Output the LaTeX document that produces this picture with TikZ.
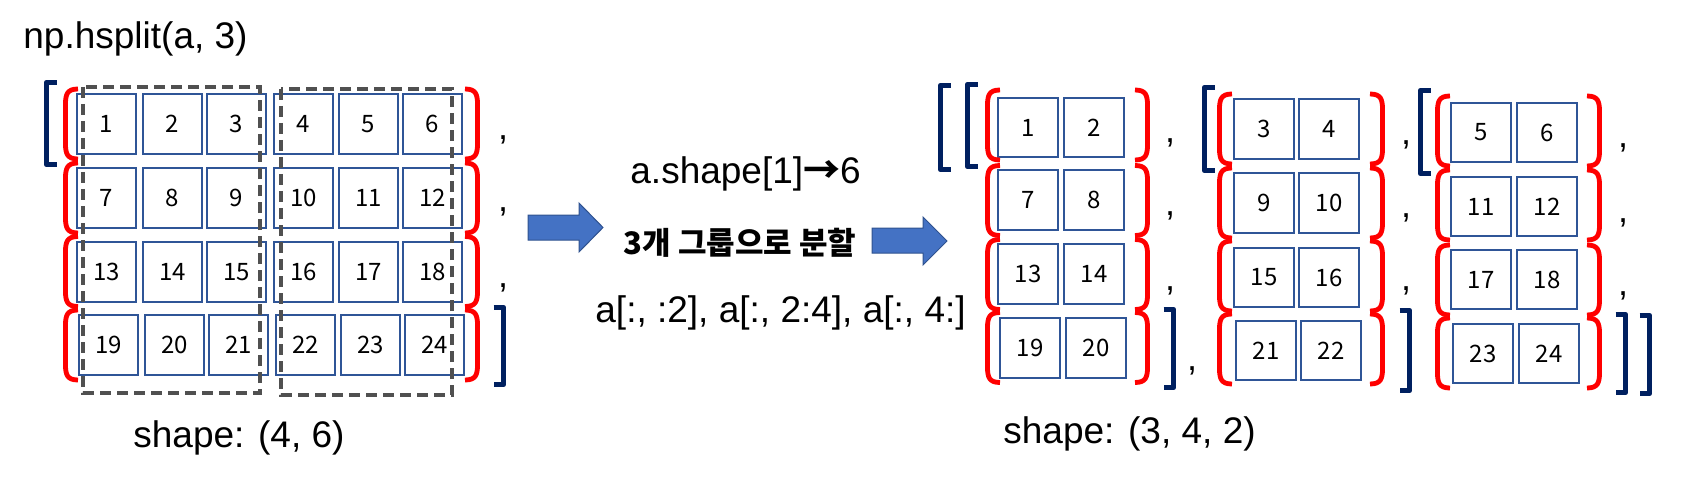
\documentclass[tikz,border=0pt]{standalone}
\usepackage{fontspec}
\setmainfont{Liberation Sans}
\newfontfamily\numf{Noto Sans CJK KR}
\newfontfamily\krf{Noto Sans CJK KR}
\definecolor{boxblue}{RGB}{47,85,151}
\definecolor{navy}{RGB}{0,32,96}
\definecolor{dgray}{RGB}{80,80,80}
\definecolor{arrowfill}{RGB}{68,114,196}
\definecolor{arrowline}{RGB}{47,82,143}
\newcommand\LB[2]{\draw[rb] (#1+12.5,#2-35) .. controls (#1+2,#2-35) and (#1,#2-30) .. (#1,#2-20) -- (#1,#2+20) .. controls (#1,#2+30) and (#1+2,#2+35) .. (#1+12.5,#2+35);}
\newcommand\RB[2]{\draw[rb] (#1-12.5,#2-35) .. controls (#1-2,#2-35) and (#1,#2-30) .. (#1,#2-20) -- (#1,#2+20) .. controls (#1,#2+30) and (#1-2,#2+35) .. (#1-12.5,#2+35);}
\newcommand\LS[3]{\draw[nb] (#1+10,#2) -- (#1,#2) -- (#1,#3) -- (#1+10,#3);}
\newcommand\RS[3]{\draw[nb] (#1-10,#2) -- (#1,#2) -- (#1,#3) -- (#1-10,#3);}
\begin{document}
\begin{tikzpicture}[x=0.5pt,y=-0.5pt,
  cell/.style={draw=boxblue, line width=1pt, minimum width=29.75pt, minimum height=29.75pt, inner sep=0pt, font=\numf\fontsize{12}{14}\selectfont},
  rb/.style={draw=red, line width=2.4pt},
  nb/.style={draw=navy, line width=2.7pt, line join=round},
  dashbox/.style={draw=dgray, line width=2.4pt, dash pattern=on 5.5pt off 3pt},
  blockarrow/.style={fill=arrowfill, draw=arrowline, line width=0.5pt},
  txt/.style={font=\fontsize{18.5}{22}\selectfont, inner sep=0pt},
  commanode/.style={font=\fontsize{18}{22}\selectfont, inner sep=0pt, anchor=base}]
\useasboundingbox (0,0) rectangle (1693,481);
% titles
\node[txt, anchor=base west] (title) at (23,49) {np.hsplit(a, 3)};
\node[txt, anchor=base west] (shapeA) at (133,447) {shape: (4, 6)};
\node[txt, anchor=base west] (shapeB) at (1003,443) {shape: (3, 4, 2)};
\node[txt, anchor=base west] (ashape) at (630,184) {a.shape[1]{\krf\bfseries →}6};
\node[font=\krf\bfseries\fontsize{15.5}{18}\selectfont, inner sep=0pt] (kor) at (740,243) {3개 그룹으로 분할};
\node[txt, anchor=base west] (slices) at (595,322) {a[:, :2], a[:, 2:4], a[:, 4:]};
% left grid
\foreach \r/\cy/\dx in {0/124/0,1/198/0,2/272/0,3/345/2}{
  \foreach \c/\cx in {0/106.5,1/172.5,2/236.5,3/303.5,4/368.5,5/432.5}{
    \pgfmathtruncatemacro\num{\r*6+\c+1}
    \node[cell] (a\num) at (\cx+\dx,\cy) {\num};
  }}
\foreach \cy in {124,198,271.5,345}{\LB{65.5}{\cy}\RB{477.5}{\cy}}
\LS{46.5}{82.5}{164.5}
\RS{503.5}{307.5}{384.5}
\node[commanode] (ca1) at (503,140) {,};
\node[commanode] (ca2) at (503,212) {,};
\node[commanode] (ca3) at (503,287) {,};
\draw[dashbox] (83,87) rectangle (260,393);
\draw[dashbox] (281,89) rectangle (452,395);
% arrows
\draw[blockarrow] (528,215) -- (579,215) -- (579,203) -- (603,227.5) -- (579,252) -- (579,240) -- (528,240) -- cycle;
\draw[blockarrow] (872,228) -- (923,228) -- (923,217) -- (947,241) -- (923,265) -- (923,253) -- (872,253) -- cycle;
% right groups
\foreach \g/\xa/\xb/\ya/\yb/\yc/\yd in {0/1028/1094/127.5/200/274/348, 1/1264/1329/129/203/277.5/350.5, 2/1481/1547/132.5/206.5/279.5/353.5}{
  \foreach \r/\cy/\dx in {0/\ya/0,1/\yb/0,2/\yc/0,3/\yd/2}{
    \pgfmathtruncatemacro\nA{\r*6+\g*2+1}
    \pgfmathtruncatemacro\nB{\r*6+\g*2+2}
    \node[cell] (b\nA) at (\xa+\dx,\cy) {\nA};
    \node[cell] (b\nB) at (\xb+\dx,\cy) {\nB};
  }}
\foreach \cy in {125,200.5,274.5,347.5}{\LB{987.5}{\cy}\RB{1147.5}{\cy}}
\foreach \cy in {129,203,276,349}{\LB{1219.5}{\cy}\RB{1382.5}{\cy}}
\foreach \cy in {131,205,280,353}{\LB{1437.5}{\cy}\RB{1599.5}{\cy}}
\LS{940.5}{85.5}{169.5}
\LS{967.5}{84.5}{166.5}
\RS{1173.5}{309.5}{387.5}
\LS{1204.5}{87.5}{170.5}
\RS{1409.5}{310.5}{390.5}
\LS{1420.5}{90.5}{173.5}
\RS{1625.5}{314.5}{392.5}
\RS{1649.5}{315.5}{393.5}
\node[commanode] (cb1) at (1170,142) {,};
\node[commanode] (cb2) at (1170,215) {,};
\node[commanode] (cb3) at (1170,290) {,};
\node[commanode] (cb4) at (1192,370) {,};
\node[commanode] (cc1) at (1406,145) {,};
\node[commanode] (cc2) at (1406,218) {,};
\node[commanode] (cc3) at (1406,290) {,};
\node[commanode] (cd1) at (1623,148) {,};
\node[commanode] (cd2) at (1623,222) {,};
\node[commanode] (cd3) at (1623,295) {,};
\end{tikzpicture}
\end{document}
